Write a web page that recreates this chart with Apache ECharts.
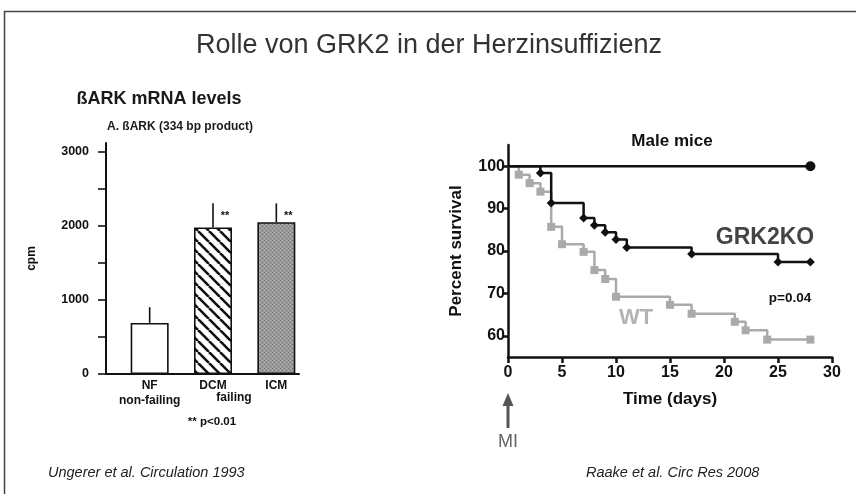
<!DOCTYPE html>
<html><head><meta charset="utf-8">
<script src="https://cdn.jsdelivr.net/npm/echarts@6/dist/echarts.min.js"></script>
<style>html,body{margin:0;padding:0;background:#fff}#c{width:856px;height:494px}</style>
</head><body><div id="c"></div>
<script>
// ---- Left chart: betaARK mRNA levels ----
const barCategories = ['NF', 'DCM', 'ICM'];
const barSubLabels = ['non-failing', '', ''];
const barMeans = [690, 1980, 2050];
const barErrors = [213, 325, 255];
const barSig = ['', '**', '**'];
const cpmTickValues = [0, 500, 1000, 1500, 2000, 2500, 3000];
const cpmLabelValues = [0, 1000, 2000, 3000];

// ---- Right chart: Kaplan-Meier survival, male mice ----
const shamCurve = [[0, 100], [28, 100]];
const grk2koCurve = [[0, 100], [3, 98.4], [4, 91.3], [7, 87.8], [8, 86.1], [9, 84.4], [10, 82.7], [11, 80.8], [17, 79.3], [25, 77.4], [28, 77.4]];
const wtCurve = [[0, 100], [1, 98.0], [2, 96.0], [3, 94.0], [4, 85.7], [5, 81.6], [7, 79.8], [8, 75.5], [9, 73.4], [10, 69.2], [15, 67.3], [17, 65.2], [21, 63.3], [22, 61.3], [24, 59.1], [28, 59.1]];
const survivalTickValues = [60, 70, 80, 90, 100];

const FONT = 'Liberation Sans, Arial, Helvetica, sans-serif';

function hatchPattern() {
  const s = 11, c = document.createElement('canvas');
  c.width = s; c.height = s;
  const g = c.getContext('2d');
  g.fillStyle = '#fff'; g.fillRect(0, 0, s, s);
  g.strokeStyle = '#111'; g.lineWidth = 2.6;
  g.beginPath();
  for (let k = -1; k <= 1; k++) { g.moveTo(k * s, 0); g.lineTo(k * s + s, s); }
  g.stroke();
  return c;
}
function stipplePattern() {
  const s = 4, c = document.createElement('canvas');
  c.width = s; c.height = s;
  const g = c.getContext('2d');
  g.fillStyle = '#9a9a9a'; g.fillRect(0, 0, s, s);
  g.fillStyle = '#6e6e6e'; g.fillRect(0, 0, 1, 1); g.fillRect(2, 2, 1, 1);
  g.fillStyle = '#b4b4b4'; g.fillRect(2, 0, 1, 1); g.fillRect(0, 2, 1, 1);
  return c;
}
const barFills = ['#ffffff', { image: hatchPattern(), repeat: 'repeat' }, { image: stipplePattern(), repeat: 'repeat' }];

const chart = echarts.init(document.getElementById('c'), null, { renderer: 'canvas' });

function lineSeriesData(curve) {
  return curve.map((p, i) => i === 0 ? { value: p, symbol: 'none' } : p);
}

const option = {
  animation: false,
  backgroundColor: '#fff',
  textStyle: { fontFamily: FONT },
  grid: [
    { left: 118, top: 143, width: 190, height: 231 },   // bars
    { left: 106, top: 143, width: 193, height: 231 },   // left axes
    { left: 508, top: 145, width: 324, height: 212 }    // survival
  ],
  xAxis: [
    {
      gridIndex: 0, type: 'category', data: barCategories,
      axisLine: { show: false }, axisTick: { show: false },
      axisLabel: {
        interval: 0, color: '#111', fontWeight: 'bold', fontSize: 12, fontFamily: FONT, margin: 4, lineHeight: 15,
        formatter: (v, i) => barSubLabels[i] ? v + '\n' + barSubLabels[i] : v
      }
    },
    {
      gridIndex: 1, type: 'value', min: 0, max: 1,
      axisLine: { show: true, lineStyle: { color: '#111', width: 2 } },
      axisTick: { show: false }, axisLabel: { show: false }, splitLine: { show: false }
    },
    {
      gridIndex: 2, type: 'value', min: 0, max: 30, interval: 5,
      name: 'Time (days)', nameLocation: 'middle', nameGap: 34,
      nameTextStyle: { color: '#111', fontWeight: 'bold', fontSize: 17, fontFamily: FONT },
      axisLine: { show: true, lineStyle: { color: '#111', width: 2.5 } },
      axisTick: { show: true, length: 6, lineStyle: { color: '#111', width: 2.5 } },
      axisLabel: { color: '#111', fontWeight: 'bold', fontSize: 16, fontFamily: FONT, margin: 8 },
      splitLine: { show: false }
    }
  ],
  yAxis: [
    { gridIndex: 0, type: 'value', min: 0, max: 3120, show: false },
    {
      gridIndex: 1, type: 'value', min: 0, max: 3120,
      name: 'cpm', nameLocation: 'middle', nameGap: 68, nameRotate: 90,
      nameTextStyle: { color: '#111', fontWeight: 'bold', fontSize: 12, fontFamily: FONT },
      axisLine: { show: true, lineStyle: { color: '#111', width: 2 } },
      axisTick: { show: true, length: 8, customValues: cpmTickValues, lineStyle: { color: '#111', width: 1.6 } },
      axisLabel: { customValues: cpmLabelValues, formatter: v => String(v), color: '#111', fontWeight: 'bold', fontSize: 12.5, fontFamily: FONT, margin: 17 },
      splitLine: { show: false }
    },
    {
      gridIndex: 2, type: 'value', min: 55, max: 105,
      name: 'Percent survival', nameLocation: 'middle', nameGap: 43, nameRotate: 90,
      nameTextStyle: { color: '#111', fontWeight: 'bold', fontSize: 17, fontFamily: FONT },
      axisLine: { show: true, lineStyle: { color: '#111', width: 2.5 } },
      axisTick: { show: true, length: 5, customValues: survivalTickValues, lineStyle: { color: '#111', width: 2.5 } },
      axisLabel: { customValues: survivalTickValues, color: '#111', fontWeight: 'bold', fontSize: 16, fontFamily: FONT, margin: 3 },
      splitLine: { show: false }
    }
  ],
  series: [
    {
      type: 'bar', xAxisIndex: 0, yAxisIndex: 0, barWidth: 38,
      data: barMeans.map((v, i) => ({ value: v, itemStyle: { color: barFills[i] } })),
      itemStyle: { borderColor: '#111', borderWidth: 1.6 }
    },
    {
      type: 'custom', xAxisIndex: 0, yAxisIndex: 0, z: 5,
      data: barCategories.map((c, i) => [i, barMeans[i], barErrors[i]]),
      renderItem: function (params, api) {
        const i = api.value(0), m = api.value(1), e = api.value(2);
        const p0 = api.coord([i, m]), p1 = api.coord([i, m + e]);
        const children = [{
          type: 'line', shape: { x1: p0[0], y1: p0[1], x2: p1[0], y2: p1[1] },
          style: { stroke: '#111', lineWidth: 1.6 }
        }];
        const sig = barSig[params.dataIndex];
        if (sig) children.push({
          type: 'text', x: p1[0] + 12, y: p1[1] + 13,
          style: { text: sig, fill: '#111', font: 'bold 11px ' + FONT, align: 'center', verticalAlign: 'middle' }
        });
        return { type: 'group', children };
      }
    },
    {
      name: 'Sham', type: 'line', xAxisIndex: 2, yAxisIndex: 2, step: 'end',
      data: lineSeriesData(shamCurve), symbol: 'circle', symbolSize: 10,
      lineStyle: { color: '#111', width: 2.5 }, itemStyle: { color: '#111' }, z: 3
    },
    {
      name: 'WT', type: 'line', xAxisIndex: 2, yAxisIndex: 2, step: 'end',
      data: lineSeriesData(wtCurve), symbol: 'rect', symbolSize: 8,
      lineStyle: { color: '#aaaaaa', width: 2.5 }, itemStyle: { color: '#aaaaaa' }, z: 2
    },
    {
      name: 'GRK2KO', type: 'line', xAxisIndex: 2, yAxisIndex: 2, step: 'end',
      data: lineSeriesData(grk2koCurve), symbol: 'diamond', symbolSize: 9,
      lineStyle: { color: '#111', width: 2.5 }, itemStyle: { color: '#111' }, z: 4
    }
  ],
  graphic: [
    { type: 'polyline', shape: { points: [[856, 11.5], [4.5, 11.5], [4.5, 494]] }, style: { stroke: '#444', lineWidth: 1.5, fill: null } },
    { type: 'text', x: 429, y: 46, style: { text: 'Rolle von GRK2 in der Herzinsuffizienz', font: '27px ' + FONT, fill: '#333', align: 'center', verticalAlign: 'middle' } },
    { type: 'text', x: 159, y: 99, style: { text: 'ßARK mRNA levels', font: 'bold 18px ' + FONT, fill: '#1a1a1a', align: 'center', verticalAlign: 'middle' } },
    { type: 'text', x: 180, y: 127, style: { text: 'A. ßARK (334 bp product)', font: 'bold 12px ' + FONT, fill: '#1a1a1a', align: 'center', verticalAlign: 'middle' } },
    { type: 'text', x: 234, y: 398, style: { text: 'failing', font: 'bold 12px ' + FONT, fill: '#111', align: 'center', verticalAlign: 'middle' } },
    { type: 'text', x: 212, y: 422, style: { text: '** p<0.01', font: 'bold 11.5px ' + FONT, fill: '#111', align: 'center', verticalAlign: 'middle' } },
    { type: 'text', x: 672, y: 141, style: { text: 'Male mice', font: 'bold 17px ' + FONT, fill: '#111', align: 'center', verticalAlign: 'middle' } },
    { type: 'text', x: 765, y: 238, style: { text: 'GRK2KO', font: 'bold 23px ' + FONT, fill: '#444', align: 'center', verticalAlign: 'middle' } },
    { type: 'text', x: 636, y: 318, style: { text: 'WT', font: 'bold 22px ' + FONT, fill: '#b3b3b3', align: 'center', verticalAlign: 'middle' } },
    { type: 'text', x: 790, y: 298, style: { text: 'p=0.04', font: 'bold 13.5px ' + FONT, fill: '#111', align: 'center', verticalAlign: 'middle' } },
    { type: 'text', x: 48, y: 473, style: { text: 'Ungerer et al. Circulation 1993', font: 'italic 14.5px ' + FONT, fill: '#222', align: 'left', verticalAlign: 'middle' } },
    { type: 'text', x: 586, y: 473, style: { text: 'Raake et al. Circ Res 2008', font: 'italic 14.5px ' + FONT, fill: '#222', align: 'left', verticalAlign: 'middle' } }
  ]
};
chart.setOption(option);

// MI arrow placed at day 0 of the survival time axis
const day0 = chart.convertToPixel({ xAxisIndex: 2 }, 0);
chart.setOption({
  graphic: option.graphic.concat([
    { type: 'line', shape: { x1: day0, y1: 404, x2: day0, y2: 428 }, style: { stroke: '#555', lineWidth: 3 } },
    { type: 'polygon', shape: { points: [[day0, 393], [day0 - 5.5, 406], [day0 + 5.5, 406]] }, style: { fill: '#555' } },
    { type: 'text', x: day0, y: 442, style: { text: 'MI', font: '18px ' + FONT, fill: '#666', align: 'center', verticalAlign: 'middle' } }
  ])
}, { replaceMerge: ['graphic'] });
</script>
</body></html>
